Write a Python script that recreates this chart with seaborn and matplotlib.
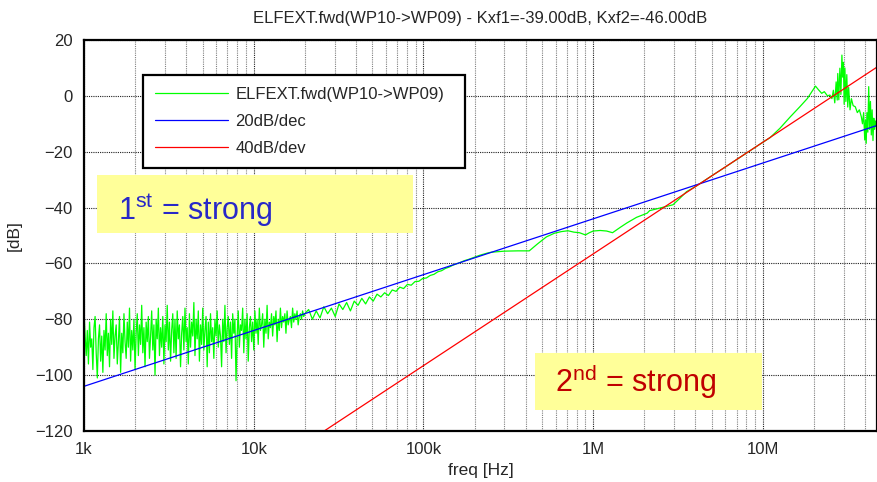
import numpy as np
import pandas as pd
import matplotlib.pyplot as plt
from matplotlib.patches import Rectangle
from matplotlib.ticker import FixedLocator, FixedFormatter, NullFormatter
import seaborn as sns

# measured trace, low band: analyzer sweep 1k..20k, log spaced points
low_freq = np.geomspace(1e3, 2e4, 200)
low_db = [
    -77, -86, -93, -84, -96, -81, -90, -87, -98, -83,
    -79, -92, -101, -87, -82, -95, -86, -99, -84, -91,
    -78, -93, -85, -97, -80, -89, -77, -94, -86, -82,
    -96, -88, -79, -99, -85, -92, -78, -88, -94, -81,
    -90, -76, -95, -84, -91, -80, -98, -85, -78, -93,
    -82, -89, -75, -92, -83, -97, -81, -88, -79, -94,
    -86, -77, -91, -82, -100, -80, -87, -76, -93, -83,
    -90, -79, -96, -82, -88, -75, -91, -81, -95, -84,
    -78, -92, -80, -94, -77, -87, -82, -97, -85, -79,
    -91, -76, -88, -83, -96, -78, -90, -81, -86, -74,
    -93, -80, -87, -77, -95, -82, -89, -76, -91, -84,
    -79, -97, -81, -92, -78, -88, -83, -94, -80, -86,
    -77, -90, -82, -86, -97, -80, -88, -75, -92, -83,
    -79, -89, -81, -94, -78, -85, -80, -102, -86, -77,
    -90, -82, -84, -76, -92, -80, -87, -78, -95, -83,
    -79, -88, -81, -91, -77, -85, -80, -89, -76, -84,
    -82, -78, -90, -80, -85, -75, -87, -81, -83, -78,
    -86, -79, -82, -77, -88, -80, -84, -76, -83, -79,
    -81, -78, -85, -77, -82, -80, -79, -83, -76, -81,
    -78, -80, -77, -82, -79, -78, -80, -77, -79, -78,
]

# mid band 20k..250k
mid_freq = np.geomspace(2e4, 2.5e5, 50)[1:]
mid_db = [
    -76.5, -80, -77, -79.5, -75.5, -78, -76, -79, -74.5,
    -76.5, -74, -77, -73.5, -75, -72.5, -74.5, -72, -73.5, -71,
    -72, -70.5, -71.5, -69.5, -70, -68.5, -69, -67.5, -67.8, -66.5,
    -66.4, -65.4, -65.2, -64.3, -63.9, -63.0, -62.6, -61.8, -61.3, -60.6,
    -60.1, -59.6, -59.0, -58.6, -58.1, -57.6, -57.1, -56.7, -56.3, -56.0,
]

# high band, read point by point
high_freq = [
    3.0e5, 3.6e5, 4.2e5, 4.7e5, 5.3e5, 5.9e5, 6.5e5, 7.1e5, 7.7e5, 8.3e5,
    9.0e5, 9.5e5, 1.0e6, 1.1e6, 1.2e6, 1.3e6, 1.45e6, 1.58e6, 1.8e6, 2.08e6,
    2.15e6, 2.46e6, 2.95e6, 3.2e6, 3.55e6, 4.0e6, 5.0e6, 6.0e6, 7.0e6, 8.0e6,
    9.0e6, 1.0e7, 1.1e7, 1.26e7, 1.45e7, 1.65e7, 1.83e7, 2.04e7, 2.13e7, 2.22e7,
    2.3e7, 2.4e7, 2.48e7, 2.55e7, 2.6e7, 2.65e7, 2.7e7, 2.74e7, 2.76e7, 2.8e7,
    2.84e7, 2.88e7, 2.92e7, 2.95e7, 2.98e7, 3.01e7, 3.04e7, 3.08e7, 3.12e7, 3.16e7,
    3.2e7, 3.26e7, 3.32e7, 3.4e7, 3.5e7, 3.6e7, 3.7e7, 3.8e7, 3.86e7, 3.92e7,
    3.98e7, 4.02e7, 4.06e7, 4.1e7, 4.15e7, 4.2e7, 4.25e7, 4.3e7, 4.35e7, 4.4e7,
    4.45e7, 4.5e7, 4.55e7, 4.6e7, 4.65e7, 4.7e7,
]
high_db = [
    -55.6, -55.5, -55.5, -53.0, -50.5, -49.2, -48.6, -48.3, -48.8, -49.0,
    -49.8, -49.0, -48.4, -48.2, -48.4, -49.0, -47.0, -45.5, -43.5, -42.0,
    -41.1, -40.2, -39.0, -37.0, -34.3, -32.5, -28.6, -25.5, -22.8, -20.5,
    -18.4, -16.6, -15.0, -11.6, -7.5, -3.9, -0.9, 3.5, 2.1, 0.9,
    1.5, 0.0, 0.3, -1.0, 2.0, -2.5, 5.0, -1.5, 8.0, -1.4,
    9.9, 0.5, 14.6, 6.7, 12.0, -3.0, 10.0, -2.0, 7.6, -4.0,
    3.0, -5.0, -1.0, -3.5, -3.9, -6.0, -5.0, -7.5, -10.0, -6.0,
    -15.8, -8.7, -17.0, -6.0, -13.0, 3.3, -12.0, -2.0, -14.0, -5.0,
    -16.0, -8.0, -12.0, -9.0, -11.0, -10.0,
]

# asymptotes
slope20_freq = [1e3, 4.7e7]
slope20_db = [-104.0, -10.6]
slope40_freq = [2.6e4, 4.7e7]
slope40_db = [-120.0, 10.3]

trace = pd.DataFrame({
    'freq': np.concatenate([low_freq, mid_freq, high_freq]),
    'db': np.concatenate([low_db, mid_db, high_db]),
})

sns.set_style('white')
plt.rcParams['font.family'] = ['Liberation Sans', 'DejaVu Sans']
plt.rcParams['mathtext.fontset'] = 'custom'
plt.rcParams['mathtext.rm'] = 'Liberation Sans'

fig = plt.figure(figsize=(8.77, 4.82), dpi=100)
ax = fig.add_axes([84 / 877, 1 - 431 / 482, 1 - 84 / 877, 391 / 482])

sns.lineplot(data=trace, x='freq', y='db', ax=ax, color='#00ff00', lw=0.9,
             estimator=None, sort=False, label='ELFEXT.fwd(WP10->WP09)')
sns.lineplot(x=slope20_freq, y=slope20_db, ax=ax, color='#0000ff', lw=0.9,
             estimator=None, label='20dB/dec')
sns.lineplot(x=slope40_freq, y=slope40_db, ax=ax, color='#ff0000', lw=0.9,
             estimator=None, label='40dB/dev')

ax.set_xscale('log')
ax.set_xlim(1e3, 4.7e7)
ax.set_ylim(-120, 20)

majors = [1e3, 1e4, 1e5, 1e6, 1e7]
ax.xaxis.set_major_locator(FixedLocator(majors))
ax.xaxis.set_major_formatter(FixedFormatter(['1k', '10k', '100k', '1M', '10M']))
minors = [m * d for d in [1e3, 1e4, 1e5, 1e6, 1e7] for m in range(2, 10)]
ax.xaxis.set_minor_locator(FixedLocator(minors))
ax.xaxis.set_minor_formatter(NullFormatter())
ax.set_yticks(range(-120, 21, 20))

ax.grid(which='major', color='#202020', linestyle=(0, (1, 1)), lw=0.8)
ax.grid(which='minor', axis='x', color='#808080', linestyle=(0, (1, 1)), lw=0.8)
ax.tick_params(which='both', direction='in', labelsize=12, pad=8, length=3, color='black')
for s in ax.spines.values():
    s.set_color('black')
    s.set_linewidth(1.6)

ax.set_title('ELFEXT.fwd(WP10->WP09) - Kxf1=-39.00dB, Kxf2=-46.00dB', fontsize=12, pad=12)
ax.set_xlabel('freq [Hz]', fontsize=12.5, labelpad=4)
ax.set_ylabel('[dB]', fontsize=12.5, labelpad=10)

leg = ax.legend(loc='upper left', bbox_to_anchor=(0.0744, 0.91, 0.406, 0.0), mode='expand',
                fontsize=12, frameon=True, fancybox=False, handlelength=4.4,
                handletextpad=0.45, labelspacing=0.72, borderpad=0.7, borderaxespad=0)
leg.get_frame().set_edgecolor('black')
leg.get_frame().set_linewidth(1.6)
leg.get_frame().set_alpha(1)

# yellow annotation boxes
fig.add_artist(Rectangle((97 / 877, 1 - 233 / 482), 316 / 877, 58 / 482,
                         transform=fig.transFigure, facecolor='#ffff99', edgecolor='none'))
fig.text(118 / 877, 1 - 220 / 482, r'1$^{\mathrm{st}}$ = strong', fontsize=22,
         color='#2828c8', va='baseline')
fig.add_artist(Rectangle((535 / 877, 1 - 410 / 482), 227 / 877, 57 / 482,
                         transform=fig.transFigure, facecolor='#ffff99', edgecolor='none'))
fig.text(555 / 877, 1 - 392 / 482, r'2$^{\mathrm{nd}}$ = strong', fontsize=22,
         color='#c00000', va='baseline')

plt.savefig('out.png', dpi=100)
